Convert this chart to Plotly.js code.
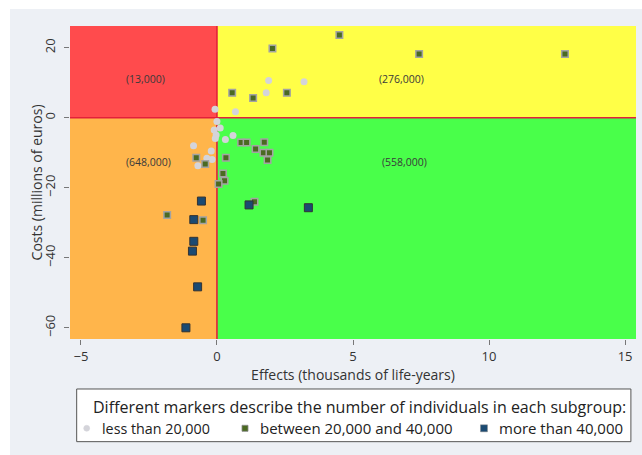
<!DOCTYPE html>
<html><head><meta charset="utf-8">
<script src="https://cdn.plot.ly/plotly-3.0.1.min.js"></script>
<style>html,body{margin:0;padding:0;background:#fff;}#chart{position:absolute;left:10px;top:9px;width:632px;height:446px;}</style>
</head><body><div id="chart"></div>
<script>
// Subgroups with fewer than 20,000 individuals
const smallEffects = [1.90, 3.20, 1.81, -0.07, 0.68, 0.00, 0.12, -0.10, -0.03, -0.06, 0.31, 0.59, -0.86, -0.21, -0.37, -0.18, -0.70];
const smallCosts   = [10.6, 10.3, 7.1, 2.4, 1.7, -1.1, -2.9, -3.5, -4.9, -5.9, -6.2, -5.1, -8.0, -9.5, -11.6, -11.9, -13.7];
// Subgroups with between 20,000 and 40,000 individuals
const midEffects = [4.50, 2.04, 0.56, 1.33, 2.57, 7.43, 12.79, 0.89, 1.09, 1.74, 1.42, 1.71, 1.93, 1.86, 0.33, -0.76, -0.43, 0.22, 0.28, 0.06, 1.38, -1.83, -0.51];
const midCosts   = [23.6, 19.8, 7.1, 5.6, 7.1, 18.2, 18.2, -7.1, -7.1, -7.0, -8.9, -10.0, -10.0, -12.1, -11.4, -11.4, -13.2, -15.9, -18.0, -18.9, -24.0, -27.8, -29.3];
// Subgroups with more than 40,000 individuals
const bigEffects = [-0.57, 1.18, 3.36, -0.85, -0.85, -0.90, -0.71, -1.14];
const bigCosts   = [-23.8, -24.9, -25.7, -29.1, -35.3, -38.1, -48.3, -60.0];

const quadrantLabels = ["(13,000)", "(276,000)", "(648,000)", "(558,000)"];
const quadrantLabelX = [-2.61, 6.78, -2.50, 6.89];
const quadrantLabelY = [11.06, 11.06, -12.66, -12.66];
const legendTitle = "Different markers describe the number of individuals in each subgroup:";
const legendNames = ["less than 20,000", "between 20,000 and 40,000", "more than 40,000"];
const xTitle = "Effects (thousands of life-years)";
const yTitle = "Costs (millions of euros)";
const xTicks = [-5, 0, 5, 10, 15];
const yTicks = [-60, -40, -20, 0, 20];

const FONT = "'Open Sans', Lato, sans-serif";
const xr = [-5.4, 15.4], yr = [-63.2, 26.2];
const colSmall = '#d4d4da', colMid = '#4b6a22', colBig = '#1b4a72';

const traces = [
  {x: smallEffects, y: smallCosts, type: 'scatter', mode: 'markers', name: legendNames[0],
   marker: {symbol: 'circle', size: 7, color: colSmall, line: {width: 0}}},
  {x: midEffects, y: midCosts, type: 'scatter', mode: 'markers', name: legendNames[1],
   marker: {symbol: 'square', size: 6.5, color: colMid, line: {width: 1.5, color: '#a3a3a3'}}},
  {x: bigEffects, y: bigCosts, type: 'scatter', mode: 'markers', name: legendNames[2],
   marker: {symbol: 'square', size: 8, color: colBig, line: {width: 1, color: '#333'}}}
];

const shapes = [
  {type:'rect', xref:'x', yref:'y', x0:xr[0], x1:0, y0:0, y1:yr[1], fillcolor:'#ff4b4d', line:{width:0}, layer:'below'},
  {type:'rect', xref:'x', yref:'y', x0:0, x1:xr[1], y0:0, y1:yr[1], fillcolor:'#ffff47', line:{width:0}, layer:'below'},
  {type:'rect', xref:'x', yref:'y', x0:xr[0], x1:0, y0:yr[0], y1:0, fillcolor:'#ffb54b', line:{width:0}, layer:'below'},
  {type:'rect', xref:'x', yref:'y', x0:0, x1:xr[1], y0:yr[0], y1:0, fillcolor:'#49ff4a', line:{width:0}, layer:'below'},
  {type:'line', xref:'x', yref:'y', x0:0, x1:0, y0:yr[0], y1:yr[1], line:{color:'#e3203a', width:1.6}, layer:'below'},
  {type:'line', xref:'x', yref:'y', x0:xr[0], x1:xr[1], y0:0, y1:0, line:{color:'#e3203a', width:1.6}, layer:'below'},
  // legend box
  {type:'rect', xref:'paper', yref:'paper', x0:0.0118, x1:0.991, y0:-0.328, y1:-0.1597, fillcolor:'#ffffff', line:{color:'#555', width:1}}
];

// legend key symbols (pixel-sized, anchored in paper coordinates)
const symX = [0.0295, 0.3092, 0.7314];
const symY = -0.2853;
const symType = ['circle', 'rect', 'rect'];
const symHalf = [3, 3, 3.5];
const symColor = [colSmall, colMid, colBig];
for (let i = 0; i < 3; i++) {
  shapes.push({type: symType[i], xref:'paper', yref:'paper', xsizemode:'pixel', ysizemode:'pixel',
    xanchor: symX[i], yanchor: symY, x0: -symHalf[i], x1: symHalf[i], y0: -symHalf[i], y1: symHalf[i],
    fillcolor: symColor[i], line:{width: i === 1 ? 0.8 : 0.5, color: i === 0 ? colSmall : '#888'}});
}

const annotations = [];
for (let i = 0; i < quadrantLabels.length; i++) {
  annotations.push({x: quadrantLabelX[i], y: quadrantLabelY[i], xref:'x', yref:'y', text: quadrantLabels[i],
    showarrow:false, font:{family:FONT, size:10.5, color:'#3a3a3a'}});
}
annotations.push({x:0.5115, y:-0.2163, xref:'paper', yref:'paper', xanchor:'center', yanchor:'middle',
  text:legendTitle, showarrow:false, font:{family:FONT, size:16, color:'#222'}});
const txtX = [0.0530, 0.3322, 0.7544];
const txtSize = [14.3, 15, 15];
for (let i = 0; i < 3; i++) {
  annotations.push({x:txtX[i], y:symY, xref:'paper', yref:'paper', xanchor:'left', yanchor:'middle',
    text:legendNames[i], showarrow:false, font:{family:FONT, size:txtSize[i], color:'#222'}});
}
// y-axis title placed close to the rotated tick labels
annotations.push({x:-0.0585, y:0.5, xref:'paper', yref:'paper', xanchor:'center', yanchor:'middle',
  textangle:-90, text:yTitle, showarrow:false, font:{family:FONT, size:14, color:'#333'}});

const layout = {
  width: 632, height: 446,
  margin: {l:60, r:6, t:17, b:116},
  paper_bgcolor: '#edf0f5', plot_bgcolor: '#edf0f5',
  showlegend: false,
  font: {family: FONT, color:'#333'},
  xaxis: {range: xr, tickvals: xTicks, ticks:'outside', ticklen:5, tickcolor:'#777', tickwidth:1,
    showgrid:false, zeroline:false, showline:false, tickfont:{size:13, color:'#333'},
    title:{text:xTitle, font:{size:14, color:'#333'}, standoff:0}},
  yaxis: {range: yr, tickvals: yTicks, ticks:'outside', ticklen:5, tickcolor:'#777', tickwidth:1, tickangle:-90,
    ticklabelstandoff:4,
    showgrid:false, zeroline:false, showline:false, tickfont:{size:13, color:'#333'}},
  shapes: shapes,
  annotations: annotations
};
Plotly.newPlot('chart', traces, layout, {displayModeBar:false, staticPlot:true});
</script></body></html>
